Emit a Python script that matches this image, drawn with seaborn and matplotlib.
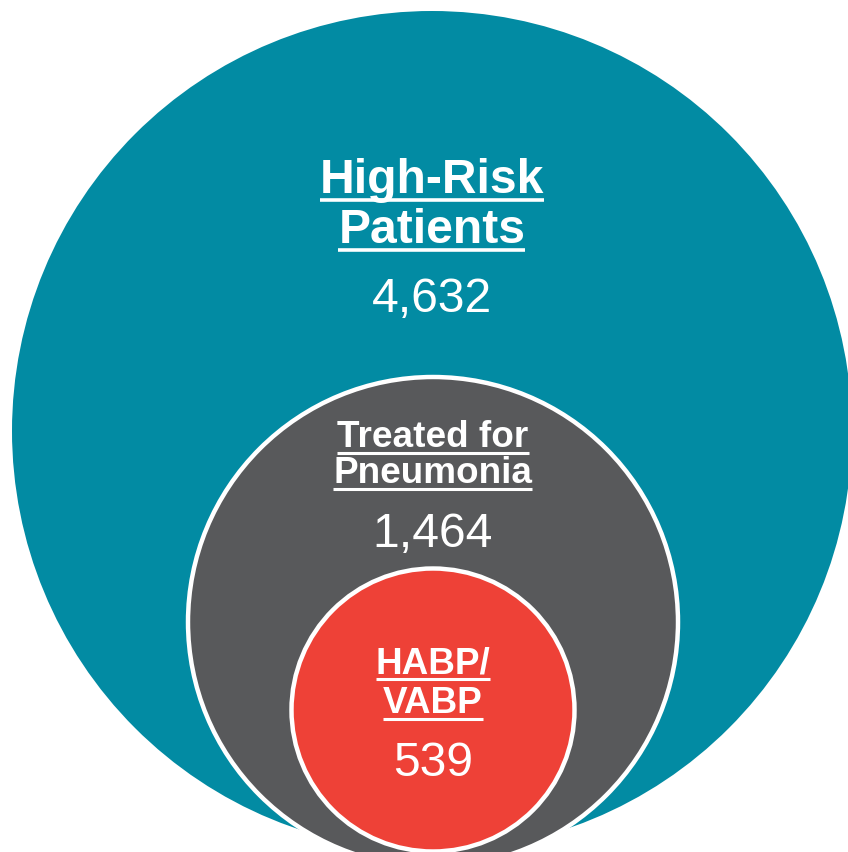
import matplotlib
matplotlib.use("Agg")
import matplotlib.pyplot as plt
from matplotlib.patches import Circle
import seaborn as sns

# ---- data ----
groups = ["High-Risk\nPatients", "Treated for\nPneumonia", "HABP/\nVABP"]
counts = [4632, 1464, 539]
colors = ["#028BA3", "#58595B", "#EE4137"]

# ---- layout (pixel coordinates, y downward) ----
W, H = 848, 853
centers = [(432, 432), (433, 623), (433, 711)]
radii = [420, 245, 141.5]
edge = [None, "white", "white"]
title_baselines = [(193, 243), (447, 483), (673, 713)]
title_sizes = [34.6, 26.6, 26.6]
number_baselines = [312, 547, 776]
number_size = 34.6

sns.set_theme(style="white")
plt.rcParams['font.family'] = ['Liberation Sans', 'DejaVu Sans']

fig = plt.figure(figsize=(W / 100, H / 100), dpi=100)
ax = fig.add_axes([0, 0, 1, 1])
ax.set_xlim(0, W)
ax.set_ylim(H, 0)
ax.set_aspect('equal')
ax.axis('off')

for (cx, cy), r, c, e in zip(centers, radii, colors, edge):
    if e is None:
        ax.add_patch(Circle((cx, cy), r, facecolor=c, edgecolor='none', zorder=1))
    else:
        ax.add_patch(Circle((cx, cy), r, facecolor=c, edgecolor=e, linewidth=3.2, zorder=2))

title_texts = []
for (cx, cy), g, bl, fs in zip(centers, groups, title_baselines, title_sizes):
    for line, y in zip(g.split("\n"), bl):
        t = ax.text(cx, y, line, ha='center', va='baseline', color='white',
                    fontsize=fs, fontweight='bold', zorder=5)
        title_texts.append((t, y, fs))

for (cx, cy), n, y in zip(centers, counts, number_baselines):
    ax.text(cx, y, f"{n:,}", ha='center', va='baseline', color='white',
            fontsize=number_size, zorder=5)

# underlines
fig.canvas.draw()
renderer = fig.canvas.get_renderer()
inv = ax.transData.inverted()
for t, y, fs in title_texts:
    bb = t.get_window_extent(renderer)
    (x0, _), (x1, _) = inv.transform([(bb.x0, bb.y0), (bb.x1, bb.y1)])
    off = 7.5 if fs > 30 else 6.5
    lw = 2.6 if fs > 30 else 2.2
    ax.plot([x0, x1], [y + off, y + off], color='white', linewidth=lw,
            solid_capstyle='butt', zorder=5)

fig.savefig("out.png", dpi=100)
